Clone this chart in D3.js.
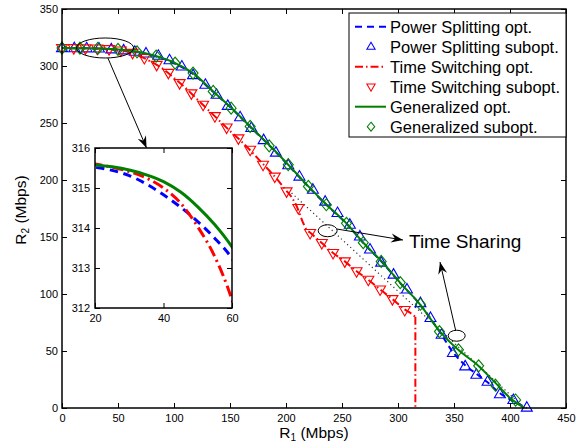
<!DOCTYPE html>
<html>
<head>
<meta charset="utf-8">
<script src="https://cdn.jsdelivr.net/npm/d3@7"></script>
<style>
body { margin: 0; background: #fff; }
text { font-family: "Liberation Sans", Arial, sans-serif; fill: #000; }
</style>
</head>
<body>
<div id="chart"></div>
<script>
'use strict';

// axes
var xTicks = [0, 50, 100, 150, 200, 250, 300, 350, 400, 450];
var yTicks = [0, 50, 100, 150, 200, 250, 300, 350];
var insetXTicks = [20, 40, 60];
var insetYTicks = [312, 313, 314, 315, 316];

// Power Splitting opt.
var psOptX = [0, 20, 25, 30, 35, 40, 45, 50, 55, 60, 70, 85, 101, 117, 135, 151.5, 168, 185.7, 202, 220, 236.3, 254, 269, 285.4, 301.8, 319.6, 337.5, 349, 360, 370, 380, 391, 403, 415];
var psOptY = [315.7, 315.52, 315.44, 315.31, 315.1, 314.83, 314.52, 314.16, 313.74, 313.24, 311.5, 308, 302, 293, 277.3, 262.7, 246.7, 229.7, 213, 194, 178, 161.7, 144.7, 128.3, 109.8, 90.8, 66.5, 49, 37.5, 30, 22.5, 13, 6, 0];

// Power Splitting subopt.
var psSubX = [0, 11, 22, 33, 44, 55, 65, 75, 86, 96, 107, 117, 128, 138, 148, 159, 169, 180, 191, 202, 212, 224, 235, 246, 257, 266, 275, 285, 296, 308, 320, 329, 339, 349, 360, 370, 380, 391, 403, 415];
var psSubY = [315.7, 315.6, 315.5, 315.3, 314.6, 313.7, 312.5, 311, 309, 305, 299.5, 292, 283.5, 274.8, 265, 255, 245.6, 235, 224, 213, 203, 191.5, 181, 171, 160.8, 150.5, 139, 127.5, 117, 104, 92, 79, 64.3, 48.2, 36.5, 29.2, 23, 12, 7, 0.3];

// Time Switching opt. (ends with a drop to the axis)
var tsOptX = [0, 20, 25, 30, 35, 40, 45, 50, 55, 60, 70, 80, 90, 100, 110, 120, 130, 140, 150, 160, 170, 180, 190, 200, 205, 210, 215, 218, 222, 232, 242, 252.5, 263, 273.5, 284, 295, 306, 313, 315.5];
var tsOptY = [315.8, 315.6, 315.52, 315.41, 315.25, 315.0, 314.62, 314.03, 313.28, 312.2, 308.5, 303.5, 297.5, 289.5, 281, 271.5, 262, 252.5, 243, 234, 224, 213.5, 203, 191, 185, 176, 163, 157, 153.5, 144.7, 136, 128.6, 120, 112.5, 104, 95.5, 86.5, 82, 80];

// Time Switching subopt.
var tsSubX = [0, 10.5, 21, 31.5, 42, 52.5, 63, 73.5, 84.5, 95, 105, 115.5, 126, 136.5, 147, 157.5, 168, 179.5, 190, 200.5, 211, 221.5, 232, 242, 252.5, 263, 273.5, 284, 295, 306];
var tsSubY = [315.8, 315.7, 315.5, 315.3, 314.8, 313.6, 311.5, 307, 301, 294, 285, 276, 266, 256, 246, 236.5, 226.6, 213.4, 203, 190, 175.4, 153.5, 144.7, 136, 128.6, 120, 112.5, 104, 95.5, 86];

// Generalized opt.
var genOptX = [0, 20, 25, 30, 35, 40, 45, 50, 55, 60, 70, 84.5, 101, 117, 135, 151.5, 168, 185.7, 202, 220, 236.3, 254, 269, 285.4, 301.8, 319.6, 337.5, 353.8, 371.7, 387, 401, 413];
var genOptY = [315.7, 315.58, 315.53, 315.45, 315.33, 315.16, 314.9, 314.53, 314.08, 313.53, 312, 308.5, 302.6, 293.8, 277.7, 263, 247, 230, 213.4, 194.4, 178.3, 162, 145, 128.6, 110, 91, 67, 51, 37, 22, 8, 0];

// Generalized subopt.
var genSubX = [0, 16, 32, 50, 67, 84, 101, 117, 135, 151, 168, 185, 202, 220, 236, 254, 269, 285, 302, 320, 337, 354, 372, 387, 405];
var genSubY = [315.7, 315.6, 315.4, 314.5, 312.4, 308.6, 302.6, 293.8, 277.7, 263, 247, 230, 213.4, 194.4, 178.3, 162, 145, 128.6, 110, 91, 67, 51, 37, 20, 7];

// Time Sharing chord
var shareX = [205, 413];
var shareY = [188.6, 0];

var chart = {};
chart.margins = {top: 9, left: 62};
chart.cw = 504;
chart.ch = 399;
chart.inset = {left: 95, top: 148, w: 137, h: 160};
chart.font = '"Liberation Sans", Arial, sans-serif';

chart.blue = '#0000ff';
chart.red = '#ff0000';
chart.green = '#008000';

chart.series = [
    {name: 'Power Splitting opt.', type: 'line', color: chart.blue, dash: '6,4', legendDash: '7,5', xs: psOptX, ys: psOptY},
    {name: 'Power Splitting subopt.', type: 'marker', color: chart.blue, shape: 'up', xs: psSubX, ys: psSubY},
    {name: 'Time Switching opt.', type: 'line', color: chart.red, dash: '8,3,1.5,3', legendDash: '8,3,1.5,3', xs: tsOptX, ys: tsOptY, drop: true},
    {name: 'Time Switching subopt.', type: 'marker', color: chart.red, shape: 'down', xs: tsSubX, ys: tsSubY},
    {name: 'Generalized opt.', type: 'line', color: chart.green, dash: null, xs: genOptX, ys: genOptY},
    {name: 'Generalized subopt.', type: 'marker', color: chart.green, shape: 'diamond', xs: genSubX, ys: genSubY}
];

chart.shapes = {
    up: 'M0,-6L5.5,3.5L-5.5,3.5Z',
    down: 'M0,6L5.5,-3.5L-5.5,-3.5Z',
    diamond: 'M0,-6L5,0L0,6L-5,0Z'
};

chart.zip = function (xs, ys) {
    return xs.map(function (x, i) { return [x, ys[i]]; });
};

chart.appendSvg = function (div) {
    return d3.select(div).append('svg')
        .attr('width', 577)
        .attr('height', 442);
};

chart.drawSeries = function (g, sx, sy, lw, dashScale) {
    var line = d3.line()
        .x(function (d) { return sx(d[0]); })
        .y(function (d) { return sy(d[1]); })
        .curve(d3.curveMonotoneX);

    chart.series.forEach(function (s) {
        var pts = chart.zip(s.xs, s.ys);
        if (s.type === 'line') {
            var dash = s.dash ? s.dash.split(',').map(function (v) { return +v * dashScale; }).join(',') : null;
            g.append('path')
                .attr('d', line(pts))
                .attr('fill', 'none')
                .attr('stroke', s.color)
                .attr('stroke-width', lw)
                .attr('stroke-dasharray', dash);
            if (s.drop) {
                var last = pts[pts.length - 1];
                g.append('line')
                    .attr('x1', sx(last[0])).attr('x2', sx(last[0]))
                    .attr('y1', sy(last[1])).attr('y2', sy(0))
                    .attr('stroke', s.color)
                    .attr('stroke-width', lw)
                    .attr('stroke-dasharray', dash);
            }
        } else if (sx.isMain) {
            g.selectAll(null)
                .data(pts)
                .enter()
                .append('path')
                .attr('d', chart.shapes[s.shape])
                .attr('transform', function (d) { return 'translate(' + sx(d[0]) + ',' + sy(d[1]) + ')'; })
                .attr('fill', 'none')
                .attr('stroke', s.color)
                .attr('stroke-width', 1.1);
        }
    });
};

chart.drawAxes = function (svg, sx, sy, xt, yt, w, h, left, top, fs, padX, padY) {
    var ax = svg.append('g');
    var fmt = d3.format('d');
    ax.append('g')
        .attr('transform', 'translate(0,' + (top + h) + ')')
        .call(d3.axisBottom(sx).tickValues(xt).tickFormat(fmt).tickSizeInner(-5).tickSizeOuter(0).tickPadding(padX));
    ax.append('g')
        .attr('transform', 'translate(0,' + top + ')')
        .call(d3.axisTop(sx).tickValues(xt).tickSizeInner(-5).tickSizeOuter(0).tickFormat(''));
    ax.append('g')
        .attr('transform', 'translate(' + left + ',0)')
        .call(d3.axisLeft(sy).tickValues(yt).tickFormat(fmt).tickSizeInner(-5).tickSizeOuter(0).tickPadding(padY));
    ax.append('g')
        .attr('transform', 'translate(' + (left + w) + ',0)')
        .call(d3.axisRight(sy).tickValues(yt).tickSizeInner(-5).tickSizeOuter(0).tickFormat(''));
    ax.selectAll('.domain').remove();
    ax.selectAll('.tick line').attr('stroke', '#000').attr('stroke-width', 1);
    ax.selectAll('.tick text').attr('font-size', fs).attr('font-family', chart.font).attr('fill', '#000');
    svg.append('rect')
        .attr('x', left).attr('y', top)
        .attr('width', w).attr('height', h)
        .attr('fill', 'none')
        .attr('stroke', '#000')
        .attr('stroke-width', 1.5);
};

chart.appendDefs = function (svg) {
    var defs = svg.append('defs');
    defs.append('marker')
        .attr('id', 'arrow')
        .attr('viewBox', '-12 -6 14 12')
        .attr('markerWidth', 14)
        .attr('markerHeight', 12)
        .attr('markerUnits', 'userSpaceOnUse')
        .attr('orient', 'auto')
        .append('path')
        .attr('d', 'M0,0L-12,-4.5L-8,0L-12,4.5Z')
        .attr('fill', '#000');
    defs.append('clipPath')
        .attr('id', 'insetClip')
        .append('rect')
        .attr('x', chart.inset.left).attr('y', chart.inset.top)
        .attr('width', chart.inset.w).attr('height', chart.inset.h);
};

chart.appendAnnotations = function (svg, sx, sy) {
    var g = svg.append('g').attr('fill', 'none').attr('stroke', '#000').attr('stroke-width', 1);
    // zoomed region
    g.append('ellipse')
        .attr('cx', sx(38.5)).attr('cy', sy(315.8))
        .attr('rx', 28.5).attr('ry', 10);
    g.append('line')
        .attr('x1', sx(41)).attr('y1', sy(307))
        .attr('x2', sx(75.5)).attr('y2', chart.inset.top)
        .attr('marker-end', 'url(#arrow)');
    // time sharing
    g.append('ellipse')
        .attr('cx', sx(237.2)).attr('cy', sy(155.5))
        .attr('rx', 9.5).attr('ry', 6);
    g.append('line')
        .attr('x1', sx(245.5)).attr('y1', sy(157))
        .attr('x2', 403).attr('y2', 240)
        .attr('marker-end', 'url(#arrow)');
    g.append('ellipse')
        .attr('cx', sx(352.4)).attr('cy', sy(63.4))
        .attr('rx', 8.5).attr('ry', 5.5);
    g.append('line')
        .attr('x1', sx(351.5)).attr('y1', sy(68))
        .attr('x2', 440).attr('y2', 262)
        .attr('marker-end', 'url(#arrow)');
    svg.append('text')
        .attr('x', 409).attr('y', 248)
        .attr('font-size', 19)
        .text('Time Sharing');
};

chart.appendLegend = function (svg) {
    var lg = svg.append('g').attr('transform', 'translate(349,13)');
    lg.append('rect')
        .attr('width', 217).attr('height', 124)
        .attr('fill', '#fff').attr('stroke', '#000').attr('stroke-width', 1);
    chart.series.forEach(function (s, i) {
        var cy = 13.7 + i * 20;
        if (s.type === 'line') {
            lg.append('line')
                .attr('x1', 6).attr('x2', 37)
                .attr('y1', cy).attr('y2', cy)
                .attr('stroke', s.color).attr('stroke-width', 2)
                .attr('stroke-dasharray', s.legendDash || null);
        } else {
            lg.append('path')
                .attr('d', chart.shapes[s.shape])
                .attr('transform', 'translate(22,' + cy + ') scale(0.75)')
                .attr('fill', 'none')
                .attr('stroke', s.color)
                .attr('stroke-width', 1.4);
        }
        lg.append('text')
            .attr('x', 41).attr('y', cy + 6)
            .attr('font-size', 16.5)
            .text(s.name);
    });
};

chart.appendLabels = function (svg) {
    var xl = svg.append('text')
        .attr('x', 314).attr('y', 438)
        .attr('text-anchor', 'middle')
        .attr('font-size', 15.5);
    xl.append('tspan').text('R');
    xl.append('tspan').attr('font-size', 10).attr('dy', 2.5).text('1');
    xl.append('tspan').attr('dy', -2.5).text(' (Mbps)');

    var yl = svg.append('text')
        .attr('transform', 'translate(26,210) rotate(-90)')
        .attr('text-anchor', 'middle')
        .attr('font-size', 15.5);
    yl.append('tspan').text('R');
    yl.append('tspan').attr('font-size', 10).attr('dy', 2.5).text('2');
    yl.append('tspan').attr('dy', -2.5).text(' (Mbps)');
};

function rateRegion(div) {
    var svg = chart.appendSvg(div);
    chart.appendDefs(svg);

    var x = d3.scaleLinear().domain([0, 450]).range([chart.margins.left, chart.margins.left + chart.cw]);
    var y = d3.scaleLinear().domain([0, 350]).range([chart.margins.top + chart.ch, chart.margins.top]);
    x.isMain = true;

    var main = svg.append('g');
    main.append('path')
        .attr('d', d3.line().x(function (d) { return x(d[0]); }).y(function (d) { return y(d[1]); })(chart.zip(shareX, shareY)))
        .attr('stroke', '#333')
        .attr('stroke-width', 1.2)
        .attr('stroke-dasharray', '1.2,3');
    chart.drawSeries(main, x, y, 2, 1);
    chart.drawAxes(svg, x, y, xTicks, yTicks, chart.cw, chart.ch, chart.margins.left, chart.margins.top, 11, 6.5, 4);

    // inset zoom
    var ins = chart.inset;
    var ix = d3.scaleLinear().domain([20, 60]).range([ins.left, ins.left + ins.w]);
    var iy = d3.scaleLinear().domain([312, 316]).range([ins.top + ins.h, ins.top]);
    svg.append('rect')
        .attr('x', ins.left).attr('y', ins.top)
        .attr('width', ins.w).attr('height', ins.h)
        .attr('fill', '#fff');
    var ig = svg.append('g').attr('clip-path', 'url(#insetClip)');
    chart.drawSeries(ig, ix, iy, 3, 1.4);
    chart.drawAxes(svg, ix, iy, insetXTicks, insetYTicks, ins.w, ins.h, ins.left, ins.top, 11, 6, 5);

    chart.appendAnnotations(svg, x, y);
    chart.appendLegend(svg);
    chart.appendLabels(svg);
}

rateRegion('#chart');
</script>
</body>
</html>
